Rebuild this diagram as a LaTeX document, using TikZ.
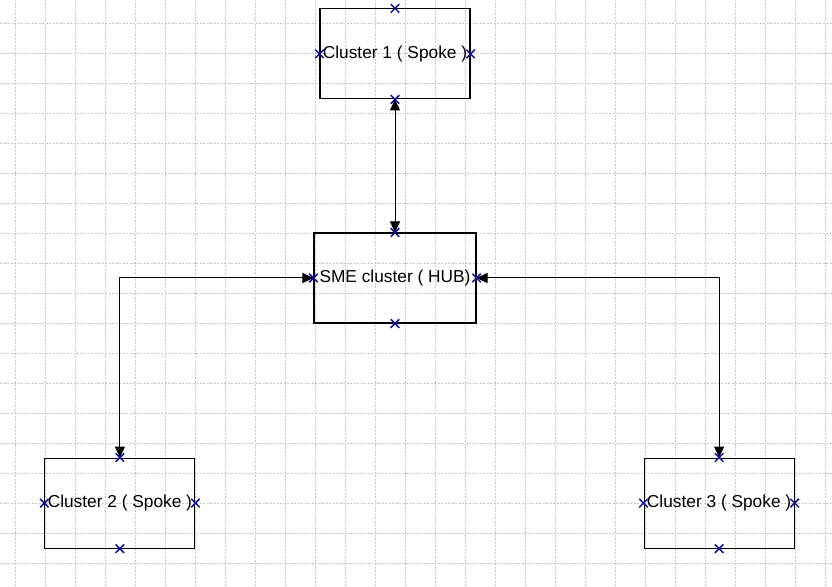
\documentclass[tikz,border=0pt]{standalone}
\usepackage{fontspec}
\setmainfont{Liberation Sans}
\usetikzlibrary{positioning,arrows.meta,shapes.misc}
\definecolor{markblue}{RGB}{20,20,150}
\tikzset{
  cluster/.style={draw, line width=1.1pt, minimum width=150pt, minimum height=90pt, inner sep=0pt, font=\fontsize{17.3}{20}\selectfont},
  link/.style={line width=1pt, {Triangle[length=11pt,width=10pt]}-{Triangle[length=11pt,width=10pt]}},
  cpoint/.style={cross out, draw=markblue, line width=1.5pt, minimum size=7pt, inner sep=0pt},
  gridline/.style={gray!45, line width=0.8pt, dash pattern=on 2pt off 1.5pt}
}
\begin{document}
\begin{tikzpicture}[x=1pt,y=1pt]
\fill[white] (0,0) rectangle (832,586);
\useasboundingbox (0,0) rectangle (832,586);
\foreach \x in {15,45,...,825} \draw[gridline] (\x,0) -- (\x,586);
\foreach \y in {23,53,...,563} \draw[gridline] (0,\y) -- (832,\y);
\node[cluster, minimum width=162pt] (hub) at (395,308) {SME cluster ( HUB)};
  \node[cluster, above=133pt of hub] (c1) {Cluster 1 ( Spoke )};
  \node[cluster, below left=134pt and 118pt of hub] (c2) {Cluster 2 ( Spoke )};
  \node[cluster, below right=134pt and 167pt of hub] (c3) {Cluster 3 ( Spoke )};
  \draw[link] (c1) -- (hub);
  \draw[link] (hub.west) -| (c2.north);
  \draw[link] (hub.east) -| (c3.north);
  \foreach \b in {hub,c1,c2,c3}
    \foreach \a in {north,south,east,west}
      \node[cpoint] (\b-\a) at (\b.\a) {};
\end{tikzpicture}
\end{document}
